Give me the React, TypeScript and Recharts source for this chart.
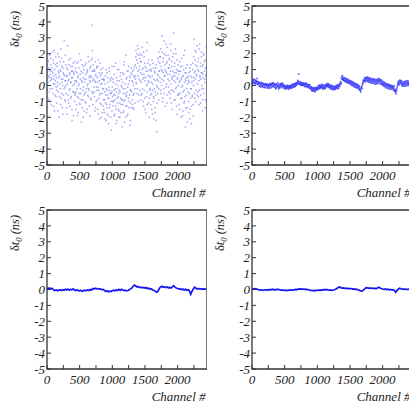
import React from 'react'
import { ScatterChart, LineChart, Scatter, Line, XAxis, YAxis, ReferenceArea, Label } from 'recharts'

// channel spacing of the sampled points in each panel
const STEP_1 = 6
const STEP_2 = 10
const STEP_LINE = 20

const X_TICKS = [0, 250, 500, 750, 1000, 1250, 1500, 1750, 2000, 2250]
const Y_TICKS = [-5, -4, -3, -2, -1, 0, 1, 2, 3, 4, 5]

// top-left panel: raw offsets, wide scatter (two interleaved samplings)
const raw = [
  0.8, -0.3, 1.6, 0.2, 1.1, -0.9, 0.5, 1.9, -0.2, 0.7, 1.3, -1.2, 0.4, 0.9, 2.1, -0.5, 0.1, 1.4, 0.6, -1.6, 1.0, 0.3, 1.8, -0.7,
  0.5, -1.1, 1.2, 0.0, 2.0, -0.4, 0.8, -2.0, 0.6, 1.5, -0.2, 0.9, -0.8, 1.7, 0.2, -1.4, 0.4, 1.1, -0.6, 0.7, 2.8, -0.1, 0.3, -1.0,
  1.3, -0.5, 0.6, -1.8, 0.1, 1.0, -0.9, 0.4, 1.6, -0.3, 0.8, -1.3, 0.2, 1.2, -0.7, 0.5, -2.2, 0.9, 0.0, 1.4, -0.4, 0.7, -1.0, 0.3,
  -0.6, 1.1, -1.5, 0.3, 0.8, -0.2, -1.9, 0.6, 1.5, -0.8, 0.1, 2.0, -1.2, 0.4, -0.5, 0.9, -2.3, 0.2, 1.3, -0.9, 0.5, -0.1, 1.0, -1.6,
  0.2, -1.0, 0.7, -0.4, 1.4, -1.7, 0.0, 0.9, -0.6, 1.8, -0.2, 0.5, -1.3, 0.3, 1.1, -0.8, 0.6, 1.6, 3.8, 0.9, 2.2, -0.5, 1.3, 0.4,
  1.0, -0.7, 0.3, 1.5, -1.4, 0.6, -0.1, 1.2, -0.9, 0.2, 1.2, -1.8, -0.3, 0.8, -0.6, 1.4, -1.1, 0.1, 0.7, -2.0, 0.4, -0.5, 1.1, -1.3,
  -0.2, -1.5, 0.4, -0.9, -2.1, 0.1, -0.6, 1.0, -1.2, -0.3, -1.8, 0.5, -0.8, -2.4, -0.1, 0.9, -1.4, -0.5, 0.3, -1.0, -2.8, -0.4, 1.2, -0.7,
  -1.3, 0.2, -0.6, -1.9, 0.7, -0.9, -0.2, 1.4, -1.5, -0.4, -2.2, 0.3, -1.1, 0.0, -0.7, 1.0, -1.6, -0.3, -2.0, 0.6, -0.8, -1.2, 0.4, -0.1,
  -0.9, 0.8, -1.7, -0.2, 1.3, -1.0, -2.3, 0.1, -0.5, 1.9, -1.3, -0.6, 0.5, -1.9, -0.1, 0.9, -0.8, -1.4, 0.3, -2.5, 0.6, -0.3, -1.1, 1.1,
  -0.4, 0.7, -1.2, 0.2, -0.6, 1.0, -1.5, 0.5, -0.2, 1.3, 0.6, 2.2, 0.1, 1.6, -0.5, 2.5, 0.9, -1.0, 1.9, 0.4, 1.2, -0.3, 2.0, 0.8,
  1.5, -0.6, 0.7, 2.4, -0.2, 1.1, -1.3, 0.5, 1.8, -0.8, 0.3, 1.2, -1.7, 0.9, 0.0, 2.7, -0.4, 0.6, 1.4, -1.1, 0.2, -2.0, 1.0, -0.3,
  0.5, -1.2, 0.9, -0.5, 1.6, -1.8, 0.1, -0.7, 1.1, -2.1, -0.2, 0.8, -1.4, 0.3, -0.6, 1.3, -2.9, 0.4, -0.1, 1.7, 0.6, -0.9, 2.1, 0.9,
  1.4, 0.2, 2.3, -0.5, 1.0, 3.1, 0.4, -1.0, 1.7, 0.8, -0.2, 2.0, 0.6, 1.3, -1.3, 0.9, 2.6, 0.1, 1.5, -0.6, 0.7, 1.9, -0.1, 1.1,
  0.3, 1.6, -0.8, 0.9, 2.2, -0.3, 1.2, 0.4, -1.5, 1.8, 0.6, 3.3, -0.4, 0.8, 1.4, -0.9, 0.2, 2.0, -0.1, 1.0, -1.8, 0.5, 1.3, -0.6,
  0.7, -1.2, 0.2, 1.5, -0.5, 0.9, -2.0, 0.4, -0.8, 1.2, 0.0, -1.6, 0.6, 1.9, -0.3, -1.0, 0.8, -2.6, 0.3, 1.1, -0.6, 0.5, -1.4, 0.1,
  -0.4, 0.6, -1.7, 0.2, -2.1, 0.9, -0.8, 1.3, -0.2, -1.3, 0.5, -0.6, 1.0, -1.9, 0.3, 2.9, 0.8, -0.5, 1.6, 0.4, -1.0, 2.1, 0.7, 1.2,
  0.1, 1.5, -0.7, 0.9, 2.3, -0.3, 0.6, 1.2, -1.1, 0.4, 1.8, -0.2, 0.8, -1.6, 1.3, 0.5, 2.0, -0.5, 0.9, 0.2, 1.6, -0.9, 0.7, 1.1,
]
const rawB = [
  1.2, 0.0, -0.8, 1.5, 0.6, 2.0, -0.4, 0.9, 0.3, 1.7, -1.0, 0.5, 1.1, -0.2, 0.8, 1.6, -1.3, 0.4, 2.2, 0.1, -0.6, 1.3, 0.7, -0.1,
  -0.3, 1.4, 0.2, -1.6, 0.9, 0.5, 1.8, -0.7, 0.1, 1.0, -1.2, 2.3, 0.4, -0.5, 1.2, 0.0, -1.8, 0.8, 1.5, -0.2, 0.6, -0.9, 1.9, 0.3,
  0.0, 1.1, -1.4, 0.6, 2.5, -0.6, 0.3, -1.1, 1.3, 0.7, -0.2, 1.7, -0.8, 0.2, 0.9, -1.5, 0.5, 1.2, -0.4, -1.9, 0.8, 0.1, 1.5, -0.5,
  0.9, -0.4, 0.2, -1.2, 1.4, -0.7, 0.5, -1.7, 0.0, 1.1, -0.5, -1.1, 0.7, -0.2, 1.6, -0.9, 0.3, -1.4, 0.8, -0.3, -2.0, 1.2, -0.6, 0.4,
  -0.5, 1.3, -1.1, 0.4, -0.2, 0.8, -1.5, 1.0, 0.1, -0.7, 1.5, -0.3, 0.6, -1.9, 0.2, 1.2, -0.9, 0.5, -0.4, 1.7, 0.3, -1.2, 0.9, -0.1,
  -0.4, 0.9, -1.6, 0.2, 0.7, -1.0, 1.1, -0.3, 0.5, -1.5, -0.1, 1.6, -0.8, 0.3, -2.1, 0.6, -0.5, 1.0, -1.2, 0.1, 0.8, -1.7, -0.2, 0.4,
  -0.9, 0.3, -1.7, -0.4, 0.6, -1.1, -2.2, -0.2, 0.8, -1.4, -0.6, 0.2, -1.9, -0.8, 1.1, -0.3, -1.2, 0.4, -2.0, -0.5, 0.5, -1.6, -0.1, -1.0,
  0.4, -1.0, -0.3, 1.2, -1.8, -0.6, 0.1, -1.3, -2.4, 0.5, -0.8, -0.2, 1.0, -1.5, -0.5, -2.0, 0.3, -1.1, -0.4, 0.8, -1.7, 0.0, -0.9, -2.6,
  0.2, -1.2, -0.5, 0.7, -1.6, 1.5, -0.9, -0.2, -2.0, 0.4, -0.7, -1.3, 0.9, -0.4, -1.8, 0.1, 1.2, -1.0, -0.6, 0.5, -2.2, -0.3, 0.8, -1.4,
  0.3, -0.9, 0.9, -1.4, 0.0, 0.6, -0.5, 1.2, -1.1, 0.4, 1.8, 0.2, 1.1, 2.0, -0.2, 1.4, 0.6, 2.3, -0.6, 1.0, 1.7, 0.3, -0.9, 1.5,
  0.2, 1.9, -0.5, 1.0, 0.4, -1.0, 2.1, 0.7, -0.3, 1.4, -1.5, 0.5, 1.1, -0.7, 2.2, 0.1, -1.2, 0.9, 0.3, 1.6, -0.8, 0.6, -0.2, 1.3,
  -0.6, 1.0, 0.2, -1.5, 0.6, -0.3, 1.4, -1.0, 0.4, -0.8, 0.9, -1.7, -0.4, 1.1, -2.2, 0.0, -1.1, 0.7, -0.5, 0.3, 1.5, -0.2, 0.9, 1.8,
  0.5, 1.8, -0.3, 1.2, 0.0, 2.1, 0.9, -0.8, 1.5, 0.3, 2.8, -0.5, 1.0, 0.6, 1.9, -0.1, 0.8, 1.4, -1.1, 2.4, 0.4, 1.1, -0.4, 1.7,
  1.3, -0.5, 0.7, 2.6, 0.1, -1.1, 1.5, 0.5, 0.9, -0.3, 2.0, 0.3, -0.9, 1.2, 0.6, 2.3, -0.2, 0.8, -1.3, 1.6, 0.4, -0.6, 0.9, 0.0,
  -0.5, 0.9, -1.5, 0.3, 1.2, -0.8, 0.5, -0.1, 1.7, -1.9, 0.6, -0.4, 1.0, -1.1, 0.2, 2.2, -0.7, 0.4, -1.4, 0.8, -0.2, 1.3, -2.3, 0.5,
  0.3, -1.0, 0.8, -0.5, 1.1, -1.5, -0.2, 0.6, -2.4, 0.2, -0.7, 1.4, -1.2, 0.0, 1.8, 0.5, -0.8, 2.2, 0.9, 1.3, -0.3, 0.6, 2.5, -0.6,
  1.0, -0.4, 1.7, 0.3, -1.2, 2.6, 0.5, 1.4, -0.6, 0.8, 2.1, 0.0, 1.2, -0.9, 0.7, 1.9, -0.2, 1.5, 0.4, -1.4, 1.1, 0.6, 2.4, -0.3,
]

// top-right panel: after first correction (two interleaved samplings)
const corr1 = [
  0.28, 0.18, 0.32, 0.22, 0.15, 0.30, 0.20, 0.26, 0.12, 0.24, 0.08, 0.14, -0.02, 0.10, 0.04, 0.12, -0.06, 0.08, 0.02, -0.10, 0.06, 0.00, -0.04, 0.10, -0.08,
  -0.02, -0.12, 0.04, -0.06, 0.08, 0.02, 0.10, -0.04, 0.06, 0.12, -0.08, 0.02, -0.14, 0.04, -0.02, -0.10, 0.00, -0.16, -0.04, 0.06, 0.10, -0.02, 0.08, 0.02, -0.06,
  -0.14, -0.04, -0.18, -0.08, -0.12, -0.02, -0.16, -0.10, -0.06, -0.14, 0.00, -0.08, 0.04, -0.04, 0.08, 0.02, -0.06, 0.06, 0.12, 0.18, 0.26, 0.14, 0.20, 0.10, 0.16,
  0.06, 0.14, 0.02, 0.10, 0.08, -0.02, 0.06, 0.12, 0.00, -0.04, 0.04, -0.08, -0.02, 0.02, -0.10, -0.16, -0.24, -0.12, -0.30, -0.20, -0.26, -0.18, -0.32, -0.22, -0.14,
  -0.20, -0.10, -0.16, -0.06, -0.12, -0.02, -0.08, 0.02, -0.10, -0.04, -0.14, -0.06, -0.12, -0.02, 0.04, -0.04, 0.06, -0.02, 0.02, -0.08, -0.12, -0.04, -0.16, -0.08, -0.14,
  -0.20, -0.10, -0.18, -0.06, -0.14, -0.08, -0.02, -0.12, -0.04, 0.04, 0.12, 0.22, 0.48, 0.56, 0.42, 0.36, 0.44, 0.30, 0.38, 0.26, 0.34, 0.22, 0.30, 0.18, 0.26,
  0.16, 0.24, 0.12, 0.20, 0.08, 0.14, 0.02, 0.10, -0.02, 0.06, -0.06, 0.00, -0.10, -0.04, -0.14, -0.22, -0.30, -0.18, -0.08, 0.04, 0.20, 0.36, 0.30, 0.42, 0.34,
  0.44, 0.36, 0.46, 0.32, 0.40, 0.30, 0.38, 0.28, 0.34, 0.24, 0.36, 0.26, 0.32, 0.22, 0.28, 0.18, 0.26, 0.34, 0.24, 0.38, 0.30, 0.22, 0.28, 0.16, 0.20,
  0.12, 0.06, 0.14, 0.02, 0.08, -0.02, 0.04, -0.06, 0.02, -0.08, -0.02, -0.10, -0.04, -0.14, -0.06, -0.12, -0.18, -0.10, -0.22, -0.34, -0.42, -0.26, -0.16, 0.04, 0.18,
  0.12, 0.22, 0.28, 0.18, 0.08, 0.14, 0.04, 0.12, 0.06, 0.16, 0.08, 0.18, 0.10, 0.20, 0.12, 0.16, 0.06, 0.14, 0.08, 0.12,
]
const corr1B = [
  0.34, 0.12, 0.40, 0.16, 0.36, 0.10, 0.30, 0.44, 0.06, 0.18, 0.22, -0.04, 0.16, -0.10, 0.20, -0.02, 0.14, -0.12, 0.12, 0.04, -0.14, 0.10, 0.08, -0.16, 0.02,
  0.06, -0.18, 0.12, 0.00, -0.14, 0.14, -0.08, 0.18, 0.00, -0.12, 0.08, -0.20, 0.10, -0.06, 0.16, -0.22, 0.06, -0.10, 0.12, -0.02, -0.14, 0.16, -0.08, 0.04, -0.18,
  -0.04, -0.22, -0.10, 0.02, -0.20, -0.06, -0.24, 0.00, -0.14, -0.02, -0.18, 0.06, -0.12, 0.10, -0.10, 0.12, -0.02, 0.16, 0.02, 0.10, 0.32, 0.72, 0.08, 0.24, 0.02,
  0.18, 0.00, 0.16, 0.02, 0.14, 0.10, -0.08, 0.16, -0.06, 0.08, -0.12, 0.06, -0.16, 0.04, -0.22, -0.08, -0.34, -0.18, -0.36, -0.14, -0.30, -0.40, -0.12, -0.28, -0.20,
  -0.26, -0.02, -0.22, 0.04, -0.18, -0.10, 0.08, -0.16, -0.22, 0.04, -0.20, 0.00, -0.18, 0.08, -0.06, 0.12, -0.10, 0.10, -0.14, 0.00, -0.22, 0.02, -0.26, -0.02, -0.20,
  -0.26, -0.04, -0.24, -0.12, 0.02, -0.20, 0.04, -0.18, 0.08, -0.06, 0.20, 0.10, 0.40, 0.62, 0.34, 0.50, 0.28, 0.46, 0.24, 0.42, 0.18, 0.40, 0.16, 0.34, 0.12,
  0.30, 0.04, 0.26, 0.00, 0.22, -0.06, 0.16, -0.10, 0.12, -0.14, 0.08, -0.16, 0.04, -0.24, -0.04, -0.30, -0.40, -0.10, -0.20, 0.12, 0.30, 0.26, 0.50, 0.22, 0.48,
  0.30, 0.54, 0.24, 0.50, 0.20, 0.46, 0.18, 0.44, 0.16, 0.40, 0.14, 0.42, 0.12, 0.38, 0.08, 0.36, 0.14, 0.44, 0.12, 0.28, 0.42, 0.10, 0.36, 0.06, 0.30,
  0.00, 0.22, -0.06, 0.18, -0.12, 0.12, -0.16, 0.10, -0.18, 0.06, -0.22, 0.04, -0.24, 0.00, -0.20, -0.04, -0.30, -0.02, -0.36, -0.26, -0.52, -0.34, -0.06, 0.14, 0.28,
  0.04, 0.34, 0.14, 0.30, -0.02, 0.24, -0.04, 0.22, -0.04, 0.26, -0.02, 0.28, 0.00, 0.30, 0.02, 0.26, -0.04, 0.22, -0.02, 0.18,
]

// bottom-left panel: second iteration
const corr2 = [
  0.08, 0.06, 0.10, 0.05, 0.07, -0.02, -0.06, -0.03, -0.08, -0.04, -0.02, -0.06, -0.01, -0.05, 0.02, -0.03, 0.03, -0.04, 0.01, -0.02, 0.04, -0.03, -0.06, -0.02, -0.07,
  -0.09, -0.05, -0.11, -0.07, -0.04, -0.08, -0.03, -0.06, 0.00, -0.04, 0.06, 0.03, 0.08, 0.04, 0.06, 0.02, 0.04, -0.02, 0.01, -0.05, -0.12, -0.08, -0.14, -0.10, -0.13,
  -0.08, -0.04, -0.09, -0.02, -0.06, 0.01, -0.05, 0.02, -0.03, -0.07, -0.04, -0.09, -0.06, -0.02, 0.04, 0.10, 0.20, 0.28, 0.22, 0.16, 0.18, 0.12, 0.15, 0.10, 0.13,
  0.09, 0.12, 0.05, 0.08, 0.02, 0.04, -0.03, -0.06, -0.12, -0.17, -0.10, 0.06, 0.16, 0.20, 0.14, 0.18, 0.12, 0.16, 0.10, 0.14, 0.08, 0.17, 0.24, 0.15, 0.10,
  0.06, 0.02, 0.05, -0.01, 0.03, -0.03, 0.01, -0.05, -0.02, -0.08, -0.30, -0.12, 0.04, 0.14, 0.08, 0.03, 0.06, 0.02, 0.05, 0.01, 0.04, 0.02, 0.03,
]

// bottom-right panel: third iteration
const corr3 = [
  0.04, 0.03, 0.05, 0.02, 0.03, -0.02, -0.04, -0.02, -0.05, -0.03, -0.02, -0.04, -0.01, -0.03, 0.01, -0.02, 0.02, -0.03, 0.00, -0.02, 0.02, -0.02, -0.04, -0.02, -0.05,
  -0.06, -0.04, -0.07, -0.05, -0.03, -0.05, -0.02, -0.04, 0.00, -0.02, 0.03, 0.02, 0.04, 0.02, 0.03, 0.01, 0.02, -0.01, 0.00, -0.03, -0.07, -0.05, -0.08, -0.06, -0.07,
  -0.05, -0.03, -0.06, -0.02, -0.04, 0.00, -0.03, 0.01, -0.02, -0.04, -0.03, -0.06, -0.04, -0.02, 0.02, 0.06, 0.12, 0.16, 0.12, 0.09, 0.10, 0.07, 0.08, 0.06, 0.07,
  0.05, 0.06, 0.03, 0.04, 0.01, 0.02, -0.02, -0.04, -0.08, -0.11, -0.06, 0.03, 0.09, 0.12, 0.08, 0.10, 0.07, 0.09, 0.06, 0.08, 0.05, 0.10, 0.14, 0.09, 0.06,
  0.03, 0.01, 0.03, -0.01, 0.02, -0.02, 0.00, -0.03, -0.01, -0.05, -0.18, -0.07, 0.02, 0.08, 0.05, 0.02, 0.03, 0.01, 0.03, 0.00, 0.02, 0.01, 0.02,
]

const toPoints = (vals: number[], step: number, offset = 0) => vals.map((v, i) => ({ ch: i * step + offset, v }))

const FONT = '"Liberation Serif", "Times New Roman", serif'

const XTick = (props: any) => {
  const { x, y, payload } = props
  const v = payload.value
  if (v % 500 !== 0) return <g />
  return (
    <text x={x} y={y} dy="0.71em" textAnchor="middle" fontFamily={FONT} fontStyle="italic" fontSize={13} fill="#222">
      {v}
    </text>
  )
}

const YTick = (props: any) => {
  const { x, y, payload } = props
  return (
    <text x={x} y={y} dy="0.36em" textAnchor="end" fontFamily={FONT} fontStyle="italic" fontSize={13} fill="#222">
      {payload.value}
    </text>
  )
}

const YTitle = (props: any) => {
  const { viewBox } = props
  const x = viewBox.x + 19
  const y = viewBox.y + 23
  return (
    <text x={x} y={y} transform={`rotate(-90, ${x}, ${y})`} textAnchor="middle" fontFamily={FONT} fontSize={12.5} fill="#222">
      <tspan>δ</tspan>
      <tspan fontStyle="italic">t</tspan>
      <tspan fontStyle="italic" fontSize={8.5} dy={3}>0</tspan>
      <tspan fontStyle="italic" dy={-3}> (ns)</tspan>
    </text>
  )
}

const XTitle = (props: any) => {
  const { viewBox } = props
  return (
    <text x={viewBox.x + viewBox.width - 1.5} y={viewBox.y + 32} textAnchor="end" fontFamily={FONT} fontStyle="italic" fontSize={13} fill="#222">
      Channel #
    </text>
  )
}

const axes = [
  <XAxis
    key="x"
    type="number"
    dataKey="ch"
    domain={[0, 2450]}
    ticks={X_TICKS}
    interval={0}
    height={35}
    axisLine={false}
    tickSize={-4}
    tickMargin={10}
    tickLine={{ stroke: '#333' }}
    tick={XTick}
    allowDataOverflow
  >
    <Label content={XTitle} />
  </XAxis>,
  <YAxis
    key="y"
    type="number"
    dataKey="v"
    domain={[-5, 5]}
    ticks={Y_TICKS}
    interval={0}
    width={47}
    axisLine={false}
    tickSize={-4}
    tickMargin={6}
    tickLine={{ stroke: '#333' }}
    tick={YTick}
    allowDataOverflow
  >
    <Label content={YTitle} />
  </YAxis>,
  <ReferenceArea key="frame" x1={0} x2={2450} y1={-5} y2={5} fill="none" stroke="#333" strokeWidth={1.3} ifOverflow="visible" />,
]

const W = 207
const H = 200
const MARGIN = { top: 6, right: 0, bottom: 0, left: 0 }

const dot = (color: string, size: number) => (p: any) =>
  <rect x={p.cx - size / 2} y={p.cy - size / 2} width={size} height={size} fill={color} />

function DotPanel({ a, b, step, color, size }: { a: number[]; b: number[]; step: number; color: string; size: number }) {
  return (
    <ScatterChart width={W} height={H} margin={MARGIN}>
      {axes}
      <Scatter data={toPoints(a, step)} isAnimationActive={false} shape={dot(color, size)} />
      <Scatter data={toPoints(b, step, step / 2)} isAnimationActive={false} shape={dot(color, size)} />
    </ScatterChart>
  )
}

function LinePanel({ values, step }: { values: number[]; step: number }) {
  return (
    <LineChart width={W} height={H} margin={MARGIN} data={toPoints(values, step)}>
      {axes}
      <Line dataKey="v" stroke="#1515f0" strokeWidth={1.7} dot={false} isAnimationActive={false} />
    </LineChart>
  )
}

export default function App() {
  return (
    <div style={{ position: 'absolute', left: 0, top: 0, width: 409, height: 414, overflow: 'hidden', background: '#fff' }}>
      <div style={{ position: 'absolute', left: 0, top: 0 }}>
        <DotPanel a={raw} b={rawB} step={STEP_1} color="rgba(80,80,245,0.5)" size={1.5} />
      </div>
      <div style={{ position: 'absolute', left: 204.5, top: 0 }}>
        <DotPanel a={corr1} b={corr1B} step={STEP_2} color="rgba(40,40,250,0.75)" size={1.6} />
      </div>
      <div style={{ position: 'absolute', left: 0, top: 204 }}>
        <LinePanel values={corr2} step={STEP_LINE} />
      </div>
      <div style={{ position: 'absolute', left: 204.5, top: 204 }}>
        <LinePanel values={corr3} step={STEP_LINE} />
      </div>
    </div>
  )
}
